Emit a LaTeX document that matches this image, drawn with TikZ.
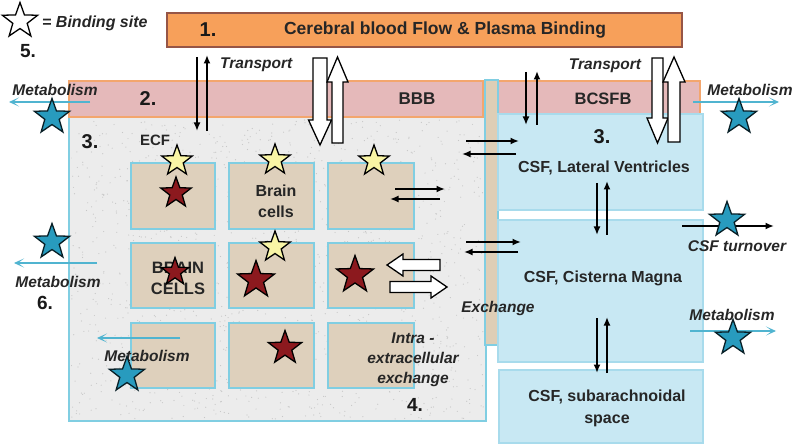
\documentclass[tikz,border=0pt]{standalone}
\usepackage{fontspec}
\setmainfont{Liberation Sans}
\usetikzlibrary{shapes.geometric,arrows.meta}
\definecolor{topF}{RGB}{247,160,90}
\definecolor{topD}{RGB}{150,85,70}
\definecolor{bandF}{RGB}{229,185,186}
\definecolor{bandD}{RGB}{243,166,110}
\definecolor{ecfF}{RGB}{236,236,236}
\definecolor{lblue}{RGB}{128,206,226}
\definecolor{cellF}{RGB}{222,208,188}
\definecolor{csfF}{RGB}{200,232,243}
\definecolor{csfD}{RGB}{168,219,236}
\definecolor{tanF}{RGB}{222,206,182}
\definecolor{tealS}{RGB}{40,155,190}
\definecolor{redS}{RGB}{140,25,30}
\definecolor{yelS}{RGB}{249,245,165}
\definecolor{metA}{RGB}{80,180,208}
\newcommand{\hollowarrow}[6]{%
  \draw[hollow, shift={#1}, rotate=#2] (0,-#4) -- ({#3-#6},-#4) -- ({#3-#6},-#5) -- (#3,0) -- ({#3-#6},#5) -- ({#3-#6},#4) -- (0,#4) -- cycle;}
\tikzset{
  box/.style={rectangle, inner sep=0pt, outer sep=0pt},
  topbox/.style={box, fill=topF, draw=topD, line width=2pt},
  band/.style={box, fill=bandF, draw=bandD, line width=2pt},
  ecfbox/.style={box, fill=ecfF, draw=lblue, line width=2.5pt},
  cellbox/.style={box, fill=cellF, draw=lblue, line width=2.5pt},
  csfbox/.style={box, fill=csfF, draw=csfD, line width=2pt},
  tanbar/.style={box, fill=tanF, draw=lblue, line width=1.5pt},
  starbase/.style={star, star points=5, star point ratio=2.45, inner sep=0pt, draw=black, line width=1.3pt},
  tealstar/.style={starbase, fill=tealS, draw=black!80!tealS, minimum size=37pt},
  redstar/.style={starbase, fill=redS, minimum size=#1},
  redstar/.default=32pt,
  yelstar/.style={starbase, fill=yelS, minimum size=32pt},
  txt/.style={inner sep=0pt, font=\fontsize{16}{19}\selectfont\bfseries, text=black!85},
  itxt/.style={inner sep=0pt, font=\fontsize{15.5}{19}\selectfont\bfseries\itshape, text=black!85},
  num/.style={inner sep=0pt, font=\fontsize{20}{22}\selectfont\bfseries, text=black!90},
  blk/.style={line width=1.8pt, -{Latex[length=8.5pt,width=7pt]}},
  met/.style={draw=metA, line width=1.8pt, -{Stealth[length=10pt,width=9pt,inset=6pt]}},
  hollow/.style={draw=black, fill=white, line width=1.3pt, line join=miter},
  speck/.style={fill=black!22}
}
\begin{document}
\begin{tikzpicture}[x=1pt,y=-1pt]
\useasboundingbox (0,0) rectangle (797,446);
\fill[white] (0,0) rectangle (797,446);
% main regions
\node[ecfbox, minimum width=417pt, minimum height=304pt] (ecf) at (277.5,269) {};
\begin{scope}
  \clip (71,119) rectangle (484,419);
  \pgfmathsetseed{7}
  \foreach \i in {1,...,1400} {
    \pgfmathsetmacro{\px}{71+413*rnd}
    \pgfmathsetmacro{\py}{119+300*rnd}
    \fill[speck] (\px,\py) circle (0.6pt);
  }
\end{scope}
\node[band, minimum width=414pt, minimum height=36pt] (bbb) at (276,99) {};
\node[band, minimum width=202pt, minimum height=33pt] (bcsfb) at (599,97.5) {};
\node[tanbar, minimum width=13pt, minimum height=265pt] (bar) at (491.5,212.5) {};
\node[csfbox, minimum width=205pt, minimum height=96pt] (lv) at (600.5,162) {};
\node[csfbox, minimum width=205pt, minimum height=142pt] (cm) at (600.5,291) {};
\node[csfbox, minimum width=204pt, minimum height=73pt] (sa) at (601,406.5) {};
\node[topbox, minimum width=515pt, minimum height=34pt] (top) at (424.5,30) {};
% cells
\node[cellbox, minimum width=84pt, minimum height=66pt] (c11) at (173,196) {};
\node[cellbox, minimum width=85pt, minimum height=66pt] (c21) at (271.5,196) {};
\node[cellbox, minimum width=86pt, minimum height=66pt] (c31) at (371,196) {};
\node[cellbox, minimum width=84pt, minimum height=65pt] (c12) at (173,275.5) {};
\node[cellbox, minimum width=85pt, minimum height=65pt] (c22) at (271.5,275.5) {};
\node[cellbox, minimum width=86pt, minimum height=65pt] (c32) at (371,275.5) {};
\node[cellbox, minimum width=84pt, minimum height=65pt] (c13) at (173,355.5) {};
\node[cellbox, minimum width=85pt, minimum height=65pt] (c23) at (271.5,355.5) {};
\node[cellbox, minimum width=86pt, minimum height=65pt] (c33) at (371,355.5) {};
% transport arrows
\draw[blk] (197,57) -- (197,131);
\draw[blk] (207,131) -- (207,55);
\draw[blk] (526,72) -- (526,125);
\draw[blk] (537,125) -- (537,71);
% big hollow arrows
\hollowarrow{(320,58)}{-90}{87}{7}{11.5}{25}
\hollowarrow{(337.5,143)}{90}{86}{5.5}{10.5}{25}
\hollowarrow{(657.5,58)}{-90}{85}{5.5}{10.5}{25}
\hollowarrow{(674,142)}{90}{85}{6}{11}{25}
% exchange arrows
\draw[blk] (395,189) -- (445,189);
\draw[blk] (440,199) -- (390,199);
\draw[blk] (466,141) -- (519,141);
\draw[blk] (516,154) -- (462,154);
\draw[blk] (466,242) -- (521,242);
\draw[blk] (518,252) -- (464,252);
\draw[blk] (597,183) -- (597,235);
\draw[blk] (607,235) -- (607,181);
\draw[blk] (597,318) -- (597,373);
\draw[blk] (607,373) -- (607,317);
\hollowarrow{(440,265)}{180}{53}{5.5}{11}{16}
\hollowarrow{(390,287)}{0}{57}{5.5}{11}{16}
% metabolism & turnover arrows
\draw[met] (90,102) -- (9,102);
\draw[met] (693,102) -- (779,102);
\draw[met] (97,263) -- (14,263);
\draw[met] (180,338) -- (97,338);
\draw[met] (690,331) -- (776,331);
\draw[blk] (682,226) -- (774,226);
% texts
\node[num] (n1) at (208,30) {1.};
\node[txt, font=\fontsize{17.5}{20}\selectfont\bfseries] (title) at (445,30) {Cerebral blood Flow \& Plasma Binding};
\node[itxt, font=\fontsize{16}{19}\selectfont\bfseries\itshape, anchor=west] (keytxt) at (42,23) {= Binding site};
\node[num, font=\fontsize{19}{22}\selectfont\bfseries] (n5) at (28,51) {5.};
\node[itxt, anchor=west] (tr1) at (220,65) {Transport};
\node[itxt] (tr2) at (605,66) {Transport};
\node[num] (n2) at (148,99) {2.};
\node[txt, font=\fontsize{17}{20}\selectfont\bfseries] (bbbt) at (417,99) {BBB};
\node[txt, font=\fontsize{16.5}{20}\selectfont\bfseries] (bcsfbt) at (603,99) {BCSFB};
\node[itxt] (m1) at (55,90) {Metabolism};
\node[itxt] (m2) at (750,90) {Metabolism};
\node[num] (n3a) at (90,142) {3.};
\node[num] (n3b) at (602,137) {3.};
\node[txt, font=\fontsize{15}{18}\selectfont\bfseries] (ecft) at (155,140) {ECF};
\node[txt] (lvt) at (604,168) {CSF, Lateral Ventricles};
\node[txt] (cmt) at (603,278) {CSF, Cisterna Magna};
\node[txt, align=center, font=\fontsize{16}{22}\selectfont\bfseries] (sat) at (607,408) {CSF, subarachnoidal\\space};
\node[itxt] (turn) at (737,246) {CSF turnover};
\node[itxt] (m3) at (732,315) {Metabolism};
\node[itxt] (exch) at (498,308) {Exchange};
\node[txt, align=center, font=\fontsize{16}{21}\selectfont\bfseries] (bc) at (276,201) {Brain\\cells};
\node[txt, align=center, font=\fontsize{16.5}{21}\selectfont\bfseries] (BC) at (178,278) {BRAIN\\CELLS};
\node[itxt] (m4) at (58,282) {Metabolism};
\node[num, font=\fontsize{19}{22}\selectfont\bfseries] (n6) at (45,303) {6.};
\node[itxt] (m5) at (147,356) {Metabolism};
\node[itxt, align=center, font=\fontsize{15.5}{20}\selectfont\bfseries\itshape] (intra) at (413,360) {Intra -\\extracellular\\exchange};
\node[num, font=\fontsize{19}{22}\selectfont\bfseries] (n4) at (415,405) {4.};
% stars
\node[starbase, fill=white, minimum size=37pt] (key) at (20,21) {};
\node[tealstar] (t1) at (52,117) {};
\node[tealstar] (t2) at (739,117) {};
\node[tealstar] (t3) at (52,242) {};
\node[tealstar] (t4) at (727,220) {};
\node[tealstar] (t5) at (733,338) {};
\node[tealstar] (t6) at (127,375) {};
\node[yelstar] (y1) at (177,161) {};
\node[yelstar] (y2) at (275,160) {};
\node[yelstar] (y3) at (374,161) {};
\node[yelstar] (y4) at (275,247) {};
\node[redstar] (r1) at (176,193) {};
\node[redstar=39pt] (r2) at (256,280) {};
\node[redstar=39pt] (r3) at (355,275) {};
\node[redstar=35pt] (r4) at (285,348) {};
\node[redstar=29pt] (r5) at (175,272) {};
\end{tikzpicture}
\end{document}
